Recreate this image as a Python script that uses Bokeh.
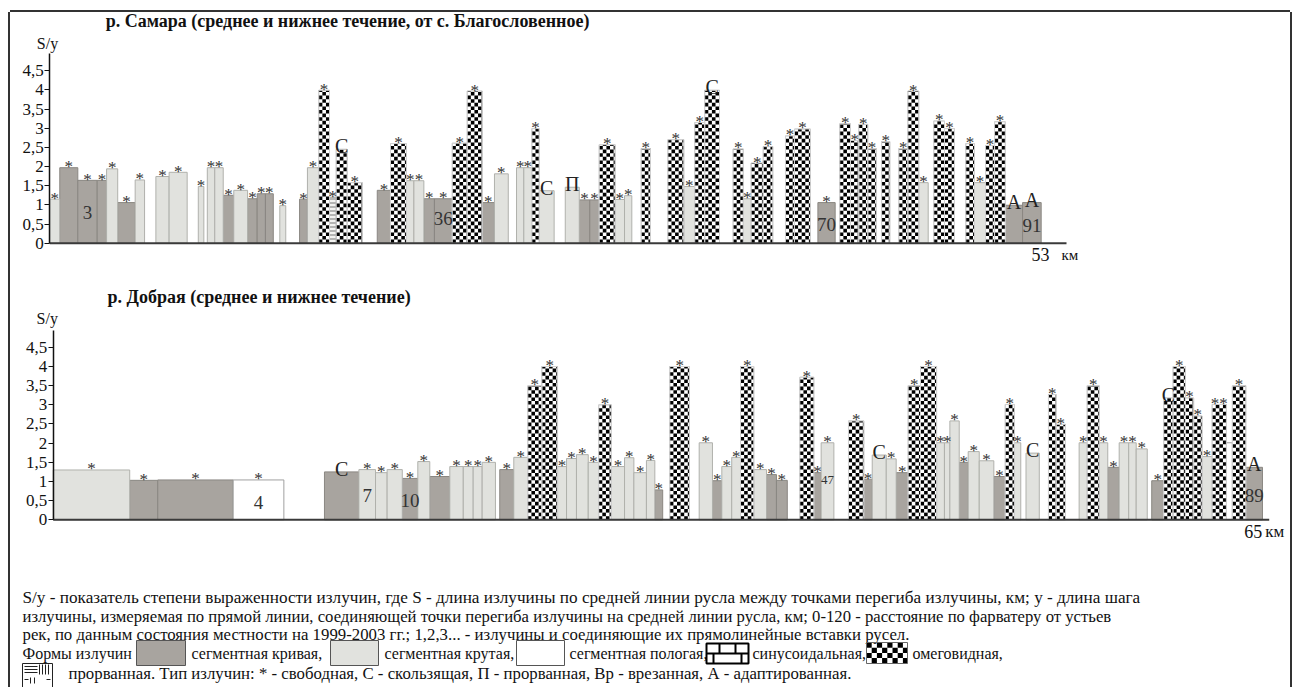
import math
from bokeh.plotting import figure
from bokeh.layouts import column
from bokeh.models import Range1d, FixedTicker, Label, CustomJSTickFormatter
from bokeh.embed import file_html
from bokeh.resources import INLINE
from bokeh.core.properties import value

SERIF = "Liberation Serif"

# ---------------- data: р. Самара (km along channel, S/y) ----------------
samara_x0 = [0.00, 0.52, 1.46, 2.47, 2.96, 3.54, 4.45, 5.53, 6.22,
             7.74, 8.21, 8.60, 9.04, 9.59, 10.31, 10.81, 11.24, 11.99,
             13.02, 13.43, 14.02, 14.58, 14.93, 15.50,
             17.07, 17.76, 18.59, 18.98, 19.50, 20.05, 20.98, 21.76, 22.54, 23.18,
             24.33, 24.71, 25.13, 25.51, 26.87, 27.60, 28.15, 28.64, 29.47, 29.96,
             30.83, 32.22, 33.05, 33.62, 34.14, 35.62, 36.15, 36.56, 37.19,
             38.35, 38.82, 40.04, 41.18, 41.74, 42.17, 42.64, 43.36,
             44.26, 44.73, 45.30, 46.08, 46.64, 47.75, 48.20, 48.78, 49.25, 49.81, 50.71]
samara_x1 = [0.52, 1.46, 2.47, 2.96, 3.54, 4.45, 4.94, 6.22, 7.16,
             8.03, 8.60, 9.04, 9.59, 10.31, 10.81, 11.24, 11.65, 12.30,
             13.43, 14.02, 14.58, 14.93, 15.50, 16.29,
             17.76, 18.59, 18.98, 19.50, 20.05, 20.98, 21.76, 22.54, 23.18, 23.90,
             24.71, 25.13, 25.51, 26.29, 27.60, 28.15, 28.64, 29.47, 29.96, 30.34,
             31.31, 33.05, 33.62, 34.14, 34.91, 36.15, 36.56, 37.19, 37.69,
             38.82, 39.65, 40.94, 41.74, 42.17, 42.64, 43.08, 43.79,
             44.73, 45.30, 45.79, 46.64, 47.16, 48.20, 48.78, 49.25, 49.81, 50.71, 51.68]
samara_val = [1.15, 1.97, 1.64, 1.64, 1.94, 1.06, 1.65, 1.74, 1.85,
              1.48, 1.97, 1.97, 1.25, 1.38, 1.16, 1.29, 1.29, 0.98,
              1.15, 1.97, 3.99, 1.20, 2.45, 1.58,
              1.38, 2.60, 1.63, 1.63, 1.16, 1.16, 2.61, 3.97, 1.06, 1.81,
              1.97, 1.97, 2.99, 1.37, 1.46, 1.13, 1.13, 2.57, 1.14, 1.24,
              2.47, 2.70, 1.48, 3.15, 3.99, 2.46, 1.16, 2.09, 2.52,
              2.80, 2.98, 1.06, 3.12, 2.68, 3.10, 2.47, 2.65,
              2.47, 3.97, 1.58, 3.19, 2.99, 2.60, 1.58, 2.55, 3.17, 0.99, 1.06]
# k - сегментная кривая, t - сегментная крутая, p - сегментная пологая,
# o - омеговидная, r - прорванная
samara_form = ["t", "k", "k", "k", "t", "k", "t", "t", "t",
               "t", "t", "t", "k", "t", "k", "k", "k", "t",
               "k", "t", "o", "r", "o", "o",
               "k", "o", "t", "t", "k", "k", "o", "o", "k", "t",
               "t", "t", "o", "t", "t", "k", "k", "o", "t", "t",
               "o", "o", "t", "o", "o", "o", "t", "o", "o",
               "o", "o", "k", "o", "o", "o", "o", "o",
               "o", "o", "t", "o", "o", "o", "t", "o", "o", "k", "k"]
samara_type = ["*"] * 22 + ["С"] + ["*"] * 14 + ["С", "П"] + ["*"] * 9 + ["С"] + ["*"] * 21 + ["А", "А"]
samara_num = {2: ("3", 0.81), 29: ("36", 0.64), 55: ("70", 0.50), 71: ("91", 0.46)}
samara_len = 53

# ---------------- data: р. Добрая ----------------
dobraya_x0 = [0.00, 4.09, 5.59, 9.62,
              14.50, 16.34, 17.23, 17.85, 18.66, 19.49, 20.13, 21.20, 21.92, 22.45, 22.93,
              23.87, 24.62, 25.37, 26.12, 26.96, 27.44, 27.97, 28.60, 29.16, 29.83, 30.54, 31.04, 31.71, 32.16,
              32.96,
              34.53, 35.24, 35.74, 36.27, 36.74, 37.45, 38.13, 38.66,
              39.91, 40.66, 41.05,
              42.51, 43.33, 43.78, 44.53, 45.06, 45.70, 46.36, 47.22, 47.64, 47.93, 48.43, 48.91, 49.50, 50.28, 50.89, 51.38,
              52.00,
              53.20, 53.61,
              54.84, 55.27, 55.91, 56.37, 56.98, 57.49, 57.89,
              58.72, 59.36, 59.86, 60.52, 60.96, 61.41, 61.95, 62.71, 63.03, 63.75]
dobraya_x1 = [4.09, 5.59, 9.62, 12.33,
              16.34, 17.23, 17.85, 18.66, 19.49, 20.13, 21.20, 21.92, 22.45, 22.93, 23.64,
              24.62, 25.37, 26.12, 26.96, 27.44, 27.97, 28.60, 29.16, 29.83, 30.54, 31.04, 31.71, 32.16, 32.58,
              34.01,
              35.24, 35.74, 36.27, 36.74, 37.45, 38.13, 38.66, 39.24,
              40.66, 41.05, 41.73,
              43.33, 43.78, 44.53, 45.06, 45.70, 46.36, 47.22, 47.64, 47.93, 48.43, 48.91, 49.50, 50.28, 50.89, 51.38, 51.72,
              52.71,
              53.61, 54.11,
              55.27, 55.91, 56.37, 56.98, 57.49, 57.89, 58.48,
              59.36, 59.86, 60.52, 60.96, 61.41, 61.95, 62.71, 63.03, 63.75, 64.64]
dobraya_val = [1.30, 1.03, 1.04, 1.04,
               1.25, 1.31, 1.23, 1.31, 1.08, 1.52, 1.13, 1.39, 1.39, 1.39, 1.50,
               1.31, 1.63, 3.50, 4.00, 1.39, 1.60, 1.70, 1.50, 3.00, 1.39, 1.62, 1.23, 1.55, 0.78,
               4.00,
               2.01, 1.02, 1.39, 1.63, 4.00, 1.31, 1.18, 1.03,
               3.72, 1.23, 2.01,
               2.58, 1.06, 1.69, 1.59, 1.23, 3.50, 4.00, 2.01, 2.01, 2.58, 1.50, 1.78, 1.54, 1.13, 3.01, 2.01,
               1.74,
               3.27, 2.49,
               2.01, 3.50, 2.01, 1.37, 2.01, 2.01, 1.85,
               1.02, 3.18, 4.00, 3.18, 2.71, 1.65, 3.01, 2.01, 3.50, 1.37]
dobraya_form = ["t", "k", "k", "p",
                "k", "t", "t", "t", "k", "t", "k", "t", "t", "t", "t",
                "k", "t", "o", "o", "t", "t", "t", "t", "o", "t", "t", "t", "t", "k",
                "o",
                "t", "k", "t", "t", "o", "t", "k", "k",
                "o", "k", "t",
                "o", "k", "t", "t", "k", "o", "o", "t", "t", "t", "k", "t", "t", "k", "o", "t",
                "t",
                "o", "o",
                "t", "o", "t", "k", "t", "t", "t",
                "k", "o", "o", "o", "o", "t", "o", "p", "o", "k"]
dobraya_type = (["*"] * 4 + ["С"] + ["*"] * 38 + ["С"] + ["*"] * 13 + ["С"] + ["*"] * 10
                + ["С", "*", "*", "*", "*", "**", "", "*", "А"])
dobraya_num = {3: ("4", 0.46), 5: ("7", 0.63), 8: ("10", 0.50), 40: ("47", 1.03), 76: ("89", 0.63)}
dobraya_len = 65

y_ticks = [0, 0.5, 1, 1.5, 2, 2.5, 3, 3.5, 4, 4.5]

FILL = {"k": "#a8a49f", "t": "#e1e2de", "p": "#ffffff", "o": "#ffffff", "r": "#f3f3f1"}
EDGE = {"k": "#8a8782", "t": "#b0b1ac", "p": "#a0a0a0", "o": "#cdcdcd", "r": "#9a9a9a"}

FW = 1280    # frame width of every panel
CELL = 3.6   # checker cell, px


def checker(ls, rs, bs, ts, cw, ch):
    L, R, B, T = [], [], [], []
    for l, r, b, t in zip(ls, rs, bs, ts):
        nx = math.ceil((r - l) / cw - 1e-9)
        ny = math.ceil((t - b) / ch - 1e-9)
        for i in range(nx):
            for j in range(ny):
                if (i + j) % 2 == 0:
                    L.append(l + i * cw)
                    R.append(min(l + (i + 1) * cw, r))
                    B.append(b + j * ch)
                    T.append(min(b + (j + 1) * ch, t))
    return dict(left=L, right=R, bottom=B, top=T)


def make_chart(title, title_xy, sy_xy, x0s, x1s, vals, forms, marks, nums, length,
               x_lo, px_x, y_lo, y_hi, fh, len_offsets, km_size):
    x_hi = x_lo + FW / px_x
    p = figure(frame_width=FW, frame_height=fh, x_range=Range1d(x_lo, x_hi),
               y_range=Range1d(y_lo, y_hi), x_axis_type=None,
               output_backend="svg", toolbar_location=None, min_border=0)
    p.outline_line_color = None
    p.ygrid.grid_line_color = None
    ax = p.yaxis[0]
    ax.fixed_location = 0
    ax.ticker = FixedTicker(ticks=y_ticks)
    ax.formatter = CustomJSTickFormatter(code="return String(tick).replace('.', ',');")
    ax.bounds = (0, 4.95)
    ax.axis_line_color = "#111"
    ax.axis_line_width = 1.5
    ax.major_tick_line_color = "#111"
    ax.major_tick_out = 5
    ax.major_tick_in = 0
    ax.minor_tick_line_color = None
    ax.major_label_standoff = 1
    ax.major_label_text_font = SERIF
    ax.major_label_text_font_size = "17px"
    ax.major_label_text_color = "#111"

    for f in ["k", "t", "p", "o", "r"]:
        idx = [i for i, ff in enumerate(forms) if ff == f]
        if not idx:
            continue
        data = dict(left=[x0s[i] for i in idx], right=[x1s[i] for i in idx],
                    top=[vals[i] for i in idx], bottom=[0] * len(idx))
        kw = {}
        if f == "r":
            kw = dict(hatch_pattern="horizontal_line", hatch_color="#8a8a8a",
                      hatch_scale=4.0, hatch_weight=1.2)
        p.quad(left="left", right="right", top="top", bottom="bottom", source=data,
               fill_color=FILL[f], line_color=EDGE[f], line_width=1, **kw)

    px_y = fh / (y_hi - y_lo)
    oi = [i for i, ff in enumerate(forms) if ff == "o"]
    cells = checker([x0s[i] for i in oi], [x1s[i] for i in oi], [0] * len(oi),
                    [vals[i] for i in oi], CELL / px_x, CELL / px_y)
    p.quad(left="left", right="right", top="top", bottom="bottom", source=cells,
           fill_color="black", line_color=None)
    p.quad(left=[x0s[i] for i in oi], right=[x1s[i] for i in oi],
           top=[vals[i] for i in oi], bottom=[0] * len(oi),
           fill_color=None, line_color="#d0d0d0", line_width=1)

    p.line([0, length], [0, 0], line_color="#3a3a3a", line_width=2)

    cx = [(a + b) / 2 for a, b in zip(x0s, x1s)]
    si = [i for i, m in enumerate(marks) if "*" in m]
    p.text(x=[cx[i] for i in si], y=[vals[i] for i in si], text=[marks[i] for i in si],
           text_font=value(SERIF), text_font_size="17px", text_color="#333",
           text_align="center", text_baseline="alphabetic", y_offset=-1)
    li = [i for i, m in enumerate(marks) if m in ("С", "П", "А")]
    p.text(x=[cx[i] for i in li], y=[vals[i] for i in li], text=[marks[i] for i in li],
           text_font=value(SERIF), text_font_size="20px", text_color="#222",
           text_align="center", text_baseline="alphabetic", y_offset=-3)
    ni = list(nums.keys())
    p.text(x=[cx[i] for i in ni], y=[nums[i][1] for i in ni], text=[nums[i][0] for i in ni],
           text_font=value(SERIF),
           text_font_size=["13px" if nums[i][0] == "47" else "19px" for i in ni],
           text_color="#333", text_align="center", text_baseline="middle")

    p.text(x=[length], y=[-0.3], text=[str(length)], text_font=value(SERIF),
           text_font_size="18px", text_color="#111", text_align="right",
           text_baseline="middle", x_offset=len_offsets[0])
    p.text(x=[length], y=[-0.3], text=["км"], text_font=value(SERIF),
           text_font_size=km_size, text_color="#111", text_align="left",
           text_baseline="middle", x_offset=len_offsets[1])

    p.add_layout(Label(x=title_xy[0], y=title_xy[1], text=title, text_font=SERIF,
                       text_font_size="18px", text_font_style="bold", text_color="#111",
                       text_align="center", text_baseline="middle"))
    p.add_layout(Label(x=sy_xy[0], y=sy_xy[1], text="S/у", text_font=SERIF,
                       text_font_size="16px", text_color="#111",
                       text_align="center", text_baseline="middle"))
    return p


p1 = make_chart("р. Самара (среднее и нижнее течение, от с. Благословенное)", (15.52, 5.79),
                (-0.12, 5.2), samara_x0, samara_x1, samara_val, samara_form, samara_type,
                samara_num, samara_len, -2.049, 19.183, -0.712, 6.019, 258, (-17, -5), "15px")
p2 = make_chart("р. Добрая (среднее и нижнее течение)", (11.01, 5.80),
                (-0.32, 5.25), dobraya_x0, dobraya_x1, dobraya_val, dobraya_form, dobraya_type,
                dobraya_num, dobraya_len, -2.282, 18.708, -0.670, 6.504, 275, (-7, -4), "17px")

# ---------------- legend ----------------
p3 = figure(frame_width=FW, frame_height=142, x_range=Range1d(0, FW),
            y_range=Range1d(142, 0), x_axis_type=None, y_axis_type=None,
            output_backend="svg", toolbar_location=None, min_border=0)
p3.outline_line_color = None

note_lines = [
    "S/у - показатель степени выраженности излучин, где S - длина излучины по средней линии русла между точками перегиба излучины, км; у - длина шага",
    "излучины, измеряемая по прямой линии, соединяющей точки перегиба излучины на средней линии русла, км; 0-120 - расстояние по фарватеру от устьев",
    "рек, по данным состояния местности на 1999-2003 гг.; 1,2,3... - излучины и соединяющие их прямолинейные вставки русел.",
]
p3.text(x=[12, 12, 12], y=[52, 71, 89], text=note_lines, text_font=value(SERIF),
        text_font_size=["17.2px", "16.7px", "16.8px"], text_color="#111",
        text_align="left", text_baseline="middle")

form_words = ["Формы излучин", "сегментная кривая,", "сегментная крутая,",
              "сегментная пологая,", "синусоидальная,", "омеговидная,"]
p3.text(x=[12, 181, 374, 559, 742, 902], y=[108] * 6, text=form_words, text_font=value(SERIF),
        text_font_size="16px", text_color="#111", text_align="left", text_baseline="middle")
p3.quad(left=[126, 320, 506], right=[175, 368, 554], top=[95] * 3, bottom=[120] * 3,
        fill_color=[FILL["k"], FILL["t"], FILL["p"]], line_color="#555", line_width=1)
# brick icon (синусоидальная)
p3.quad(left=[696], right=[738], top=[98], bottom=[118], fill_color="white",
        line_color="black", line_width=2)
p3.segment(x0=[696, 709, 725, 703, 731], y0=[108, 98, 98, 108, 108],
           x1=[738, 709, 725, 703, 731], y1=[108, 108, 108, 118, 118],
           line_color="black", line_width=2)
# checker icon (омеговидная)
p3.quad(left="left", right="right", top="top", bottom="bottom",
        source=checker([856], [897], [97], [118], 5.2, 5.2), fill_color="black", line_color=None)
p3.quad(left=[856], right=[897], top=[97], bottom=[118], fill_color=None,
        line_color="#666", line_width=1)
# прорванная icon
p3.quad(left=[12], right=[42], top=[118], bottom=[143], fill_color="white",
        line_color="#222", line_width=1)
p3.segment(x0=[14, 14, 14, 29, 32, 35, 38], y0=[121, 124, 127, 119, 119, 119, 119],
           x1=[27, 27, 27, 29, 32, 35, 38], y1=[121, 124, 127, 129, 129, 129, 129],
           line_color="#222", line_width=1)
p3.segment(x0=[14, 20, 24, 36], y0=[134, 132, 132, 134], x1=[18, 20, 24, 40], y1=[134, 138, 138, 134],
           line_color="#222", line_width=1)
p3.text(x=[58], y=[128],
        text=["прорванная. Тип излучин: * - свободная, С - скользящая, П - прорванная, Вр - врезанная, А - адаптированная."],
        text_font=value(SERIF), text_font_size="16.8px", text_color="#111",
        text_align="left", text_baseline="middle")

layout = column(p1, p2, p3, spacing=0,
                styles={"margin-left": "10px", "margin-top": "12px",
                        "box-shadow": "0 -2px 0 #333, -2px 0 0 #333, 2px 0 0 #333"})

open("out.html", "w").write(file_html(layout, INLINE))
